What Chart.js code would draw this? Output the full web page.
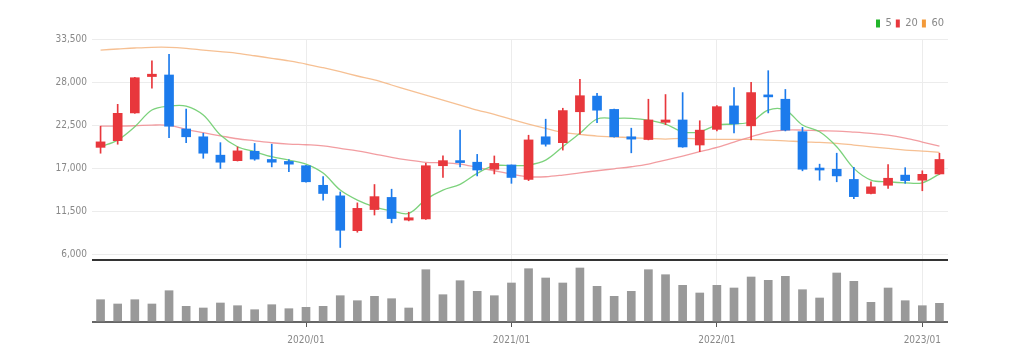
<!DOCTYPE html>
<html>
<head>
<meta charset="utf-8">
<script src="https://cdn.jsdelivr.net/npm/chart.js@4/dist/chart.umd.min.js"></script>
<style>
  html, body { margin: 0; padding: 0; background: #fff; }
  #wrap { width: 1013px; height: 362px; position: relative; }
</style>
</head>
<body>
<div id="wrap"><canvas id="stockChart"></canvas></div>
<script>
// monthly candles 2019/01 .. 2023/02
const months = [];
for (let y = 2019; y <= 2023; y++) {
    for (let m = 1; m <= 12; m++) {
        if (y === 2023 && m > 2) break;
        months.push(y + '/' + String(m).padStart(2, '0'));
    }
}

const opens  = [19650, 20500, 24050, 28700, 28900, 22000, 21000, 18650, 17950, 19150,
                18100, 17850, 17300, 14800, 13450, 9000, 11700, 13250, 10350, 10500,
                17300, 17900, 17750, 16850, 17400, 15550, 21000, 20250, 24200, 26200,
                24500, 21000, 20650, 22850, 23150, 19950, 21950, 24950, 22400, 26250,
                25800, 21650, 16950, 16850, 15550, 13750, 14800, 16100, 15450, 16250];
const highs  = [22350, 25150, 28600, 30700, 31550, 24550, 21450, 20250, 19700, 20150,
                20050, 18100, 17350, 15900, 13950, 12550, 14900, 14300, 11350, 17600,
                18550, 21850, 18750, 18550, 17400, 21200, 23250, 24650, 28350, 26550,
                24550, 22100, 25800, 26400, 26650, 23050, 25000, 27300, 27950, 29450,
                27050, 22200, 17500, 18900, 17100, 15250, 17450, 17050, 16650, 18900];
const lows   = [18900, 20050, 24000, 27200, 20900, 20250, 18250, 16950, 17900, 18000,
                17150, 16550, 15200, 12900, 6850, 8800, 11000, 10000, 10250, 10450,
                15800, 17150, 16000, 16250, 15050, 15400, 19800, 19300, 21350, 22800,
                20950, 18950, 20600, 22550, 19650, 19100, 21750, 21500, 20600, 24050,
                21750, 16650, 15450, 15250, 13100, 13700, 14400, 15050, 14100, 16200];
const closes = [20350, 24000, 28550, 29000, 22350, 21000, 18900, 17750, 19200, 18150,
                17750, 17500, 15250, 13750, 9050, 11850, 13350, 10550, 10650, 17300,
                17950, 17700, 16750, 17600, 15800, 20600, 20050, 24350, 26250, 24400,
                21000, 20700, 23150, 23150, 19700, 21850, 24850, 22650, 26650, 26100,
                21850, 16850, 16750, 16000, 13350, 14600, 15700, 15400, 16200, 18100];

const ma5  = [19725, 20580, 22280, 24420, 24930, 24930, 23780, 21220, 19725, 19090,
              18450, 18020, 17510, 16360, 14190, 12910, 12050, 11540, 11210, 13000,
              14190, 14920, 16320, 17300, 17300, 17390, 18020, 19725, 21440, 23270,
              23360, 23360, 23140, 22630, 21640, 21640, 22500, 22630, 22920, 24420,
              24420, 22500, 21640, 19725, 16960, 15470, 15250, 15120, 15120, 16230];
const ma20 = [22370, 22370, 22410, 22500, 22460, 21950, 21520, 21130, 20750, 20490,
              20240, 20070, 19980, 19850, 19520, 19210, 18790, 18370, 18020, 17730,
              17680, 17510, 17090, 16660, 16230, 15890, 15890, 16110, 16400, 16660,
              16910, 17170, 17510, 18020, 18540, 19090, 19650, 20330, 21000, 21600,
              21860, 21860, 21770, 21730, 21600, 21440, 21220, 20840, 20330, 19810];
const ma60 = [32090, 32220, 32350, 32440, 32440, 32310, 32090, 31880, 31670, 31360,
              31030, 30690, 30300, 29830, 29320, 28770, 28260, 27620, 26980, 26340,
              25700, 25060, 24420, 23870, 23230, 22630, 22080, 21570, 21310, 21090,
              21000, 20880, 20800, 20710, 20800, 20710, 20670, 20670, 20670, 20580,
              20490, 20360, 20290, 20160, 19940, 19720, 19520, 19300, 19180, 19010];

const volumes = [2230, 1800, 2230, 1800, 3130, 1570, 1400, 1900, 1630, 1230,
                 1730, 1330, 1470, 1570, 2630, 2130, 2570, 2330, 1400, 5230,
                 2730, 4130, 3070, 2630, 3900, 5330, 4400, 3900, 5400, 3570,
                 2570, 3070, 5230, 4730, 3670, 2900, 3670, 3400, 4500, 4170,
                 4570, 3230, 2400, 4900, 4070, 1970, 3400, 2130, 1630, 1870];

const priceTicks = [6000, 11500, 17000, 22500, 28000, 33500];

const UP = '#e8373c';
const DOWN = '#1c7bec';
const candleColor = opens.map((o, i) => closes[i] >= o ? UP : DOWN);
const fontFamily = "'DejaVu Sans Condensed', 'Liberation Sans Narrow', sans-serif";

// only January ticks after the first month get a label / grid line
const isYear = (i) => i > 0 && months[i] && months[i].endsWith('/01');

const data = {
    labels: months,
    datasets: [
        {
            type: 'line', label: '5', data: ma5, yAxisID: 'y',
            borderColor: 'rgba(110, 205, 110, 0.9)', backgroundColor: '#22b52a',
            borderWidth: 1.3, pointRadius: 0, tension: 0.35, order: 5
        },
        {
            type: 'line', label: '20', data: ma20, yAxisID: 'y',
            borderColor: 'rgba(240, 140, 145, 0.85)', backgroundColor: '#e8373c',
            borderWidth: 1.3, pointRadius: 0, tension: 0.35, order: 6
        },
        {
            type: 'line', label: '60', data: ma60, yAxisID: 'y',
            borderColor: 'rgba(245, 185, 135, 0.9)', backgroundColor: '#f39a3a',
            borderWidth: 1.3, pointRadius: 0, tension: 0.35, order: 7
        },
        {
            type: 'bar', label: 'wick', yAxisID: 'y',
            data: lows.map((l, i) => [l, highs[i]]),
            backgroundColor: candleColor, barThickness: 1, grouped: false, order: 2
        },
        {
            type: 'bar', label: 'body', yAxisID: 'y',
            data: opens.map((o, i) => [o, closes[i]]),
            backgroundColor: candleColor, barThickness: 9, minBarLength: 2,
            grouped: false, order: 1
        },
        {
            type: 'bar', label: 'volume', yAxisID: 'yVol',
            data: volumes,
            backgroundColor: '#999999', barThickness: 8, grouped: false, order: 3
        }
    ]
};

const config = {
    type: 'bar',
    data: data,
    options: {
        responsive: true,
        maintainAspectRatio: false,
        animation: false,
        layout: { padding: { top: 14, right: 65, bottom: 10, left: 0 } },
        plugins: {
            tooltip: { enabled: false },
            legend: {
                position: 'top',
                align: 'end',
                labels: {
                    boxWidth: 4,
                    boxHeight: 8,
                    padding: 4,
                    color: '#888',
                    font: { family: fontFamily, size: 11 },
                    filter: (item) => ['5', '20', '60'].includes(item.text),
                    generateLabels: (chart) => chart.data.datasets.map((ds, i) => ({
                        text: ds.label,
                        fillStyle: ds.backgroundColor,
                        strokeStyle: ds.backgroundColor,
                        lineWidth: 0,
                        fontColor: '#888',
                        datasetIndex: i
                    }))
                }
            }
        },
        scales: {
            x: {
                type: 'category',
                offset: true,
                border: { display: false },
                grid: {
                    offset: false,
                    drawOnChartArea: true,
                    color: (ctx) => isYear(ctx.index) ? '#ececec' : 'rgba(0,0,0,0)',
                    tickColor: (ctx) => isYear(ctx.index) ? '#555' : 'rgba(0,0,0,0)',
                    tickLength: 5
                },
                ticks: {
                    autoSkip: false,
                    maxRotation: 0,
                    padding: 7,
                    color: '#888',
                    font: { family: fontFamily, size: 10 },
                    callback: (val, i) => isYear(i) ? months[i] : ''
                },
                afterFit: (scale) => { scale.height = 30; }
            },
            yVol: {
                position: 'left',
                stack: 'main',
                stackWeight: 62,
                min: 0,
                max: 6200,
                border: { display: false },
                grid: {
                    drawTicks: false,
                    lineWidth: 2,
                    color: (ctx) => ctx.tick.value === 6200 ? '#333' : '#666'
                },
                afterBuildTicks: (scale) => { scale.ticks = [{ value: 0 }, { value: 6200 }]; },
                ticks: { display: false },
                afterFit: (scale) => { scale.width = 92; }
            },
            y: {
                position: 'left',
                stack: 'main',
                stackWeight: 221,
                min: 5250,
                max: 33500,
                border: { display: false },
                grid: { color: '#ececec', drawTicks: false },
                afterBuildTicks: (scale) => { scale.ticks = priceTicks.map(v => ({ value: v })); },
                ticks: {
                    padding: 5,
                    color: '#888',
                    font: { family: fontFamily, size: 10 },
                    callback: (v) => v.toLocaleString('en-US')
                },
                afterFit: (scale) => { scale.width = 92; }
            }
        }
    }
};

const myChart = new Chart(document.getElementById('stockChart'), config);
</script>
</body>
</html>
